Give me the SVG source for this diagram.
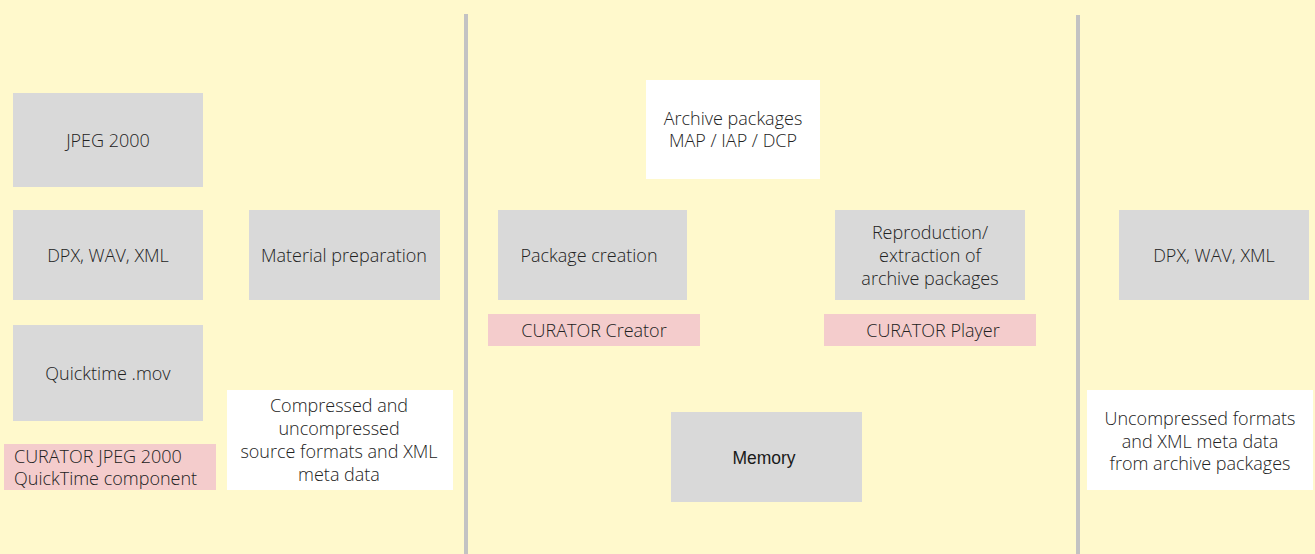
<svg xmlns="http://www.w3.org/2000/svg" width="1315" height="554" viewBox="0 0 1315 554">
<style>
.g{fill:#d9d9d9}
.w{fill:#ffffff}
.p{fill:#f4cccc}
text{font-family:"Open Sans","Noto Sans",sans-serif;font-size:18px;font-weight:300;fill:#222;text-anchor:middle;dominant-baseline:central}
.l{text-anchor:start}
.a{font-family:"Liberation Sans",Arial,sans-serif;font-size:17.5px;font-weight:400;fill:#1a1a1a}
.sep{stroke:#c3c3c3;stroke-width:4}
</style>
<rect width="1315" height="554" fill="#fff9cc"/>
<g id="separators">
<line class="sep" x1="466" y1="14" x2="466" y2="554"/>
<line class="sep" x1="1078" y1="15" x2="1078" y2="554"/>
</g>
<g id="jpeg2000"><rect class="g" x="13" y="93" width="190" height="94"/><text x="108" y="140">JPEG 2000</text></g>
<g id="dpx-left"><rect class="g" x="13" y="210" width="190" height="90"/><text x="108" y="255">DPX, WAV, XML</text></g>
<g id="material"><rect class="g" x="249" y="210" width="191" height="90"/><text x="344" y="255">Material preparation</text></g>
<g id="quicktime"><rect class="g" x="13" y="325" width="190" height="96"/><text x="108" y="373">Quicktime .mov</text></g>
<g id="curator-jpeg"><rect class="p" x="4" y="444" width="212" height="46"/><text class="l" x="14" y="456">CURATOR JPEG 2000</text><text class="l" x="14" y="478">QuickTime component</text></g>
<g id="compressed"><rect class="w" x="227" y="390" width="226" height="100"/><text x="339" y="405">Compressed and</text><text x="339" y="428">uncompressed</text><text x="339" y="451">source formats and XML</text><text x="339" y="474">meta data</text></g>
<g id="archive"><rect class="w" x="646" y="80" width="174" height="99"/><text x="733" y="118">Archive packages</text><text x="733" y="140">MAP / IAP / DCP</text></g>
<g id="package"><rect class="g" x="498" y="210" width="189" height="90"/><text x="589" y="255">Package creation</text></g>
<g id="creator"><rect class="p" x="488" y="314" width="212" height="32"/><text x="594" y="330">CURATOR Creator</text></g>
<g id="reproduction"><rect class="g" x="835" y="210" width="190" height="90"/><text x="930" y="232">Reproduction/</text><text x="930" y="255">extraction of</text><text x="930" y="278">archive packages</text></g>
<g id="player"><rect class="p" x="824" y="314" width="212" height="32"/><text x="933" y="330">CURATOR Player</text></g>
<g id="memory"><rect class="g" x="671" y="412" width="191" height="90"/><text class="a" x="764" y="458">Memory</text></g>
<g id="dpx-right"><rect class="g" x="1119" y="210" width="190" height="90"/><text x="1214" y="255">DPX, WAV, XML</text></g>
<g id="uncompressed"><rect class="w" x="1087" y="390" width="226" height="100"/><text x="1200" y="418">Uncompressed formats</text><text x="1200" y="441">and XML meta data</text><text x="1200" y="463">from archive packages</text></g>
</svg>
